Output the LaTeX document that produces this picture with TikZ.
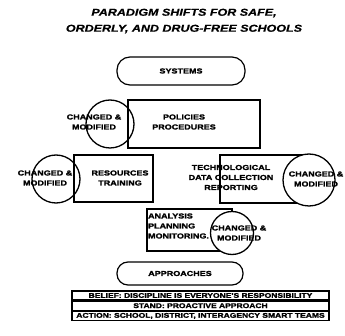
\documentclass[tikz,border=0pt]{standalone}
\usepackage{fontspec}
\newfontfamily\heavy{Liberation Sans Bold}[FakeStretch=1.25,FakeBold=2]
\newfontfamily\heavyit{Liberation Sans Bold Italic}[FakeStretch=1.25,FakeBold=0.6]
\begin{document}
\begin{tikzpicture}[x=1pt,y=-1pt,line width=1.2pt,
  lbl/.style={font=\heavy\fontsize{7.2}{10}\selectfont,align=center,inner sep=0pt},
  pill/.style={draw,rounded corners=13pt,inner sep=0pt,font=\heavy\fontsize{7.2}{10}\selectfont},
  panel/.style={draw,inner sep=0pt},
  ring/.style={draw,circle,inner sep=0pt,line width=1.3pt},
  ringfill/.style={ring,fill=white},
  rowbox/.style={draw,inner sep=0pt,minimum width=257pt,minimum height=9pt,
    font=\heavy\fontsize{6.8}{8}\selectfont}]
\useasboundingbox[fill=white] (0,0) rectangle (345,336);

% heading
\node[font=\heavyit\fontsize{10}{16}\selectfont,align=center,inner sep=0pt]
  (title) at (184,21) {PARADIGM SHIFTS FOR SAFE,\\ORDERLY, AND DRUG-FREE SCHOOLS};

% systems
\node[pill,minimum width=128pt,minimum height=28pt] (systems) at (181,71) {SYSTEMS};

% policies / procedures
\node[panel,minimum width=132pt,minimum height=48pt] (policies) at (194,124) {};
\node[ring,minimum size=48pt] (cm1) at (110,124) {};
\node[lbl] (cm1t) at (94,122) {CHANGED \&\\MODIFIED};
\node[lbl] (policiest) at (184,122) {POLICIES\\PROCEDURES};

% resources / training
\node[panel,minimum width=79pt,minimum height=47pt] (resources) at (113.5,178.5) {};
\node[ring,minimum size=48pt] (cm2) at (56,179) {};
\node[lbl] (cm2t) at (45,178) {CHANGED \&\\MODIFIED};
\node[lbl] (resourcest) at (120,178) {RESOURCES\\TRAINING};

% technological data collection
\node[panel,minimum width=89pt,minimum height=48pt] (tech) at (264.5,179) {};
\node[ringfill,minimum size=52pt] (cm3) at (309,180) {};
\node[lbl] (techt) at (231,177.5) {TECHNOLOGICAL\\DATA COLLECTION\\REPORTING};
\node[lbl] (cm3t) at (316,179) {CHANGED \&\\MODIFIED};

% analysis / planning / monitoring
\node[panel,minimum width=85pt,minimum height=42pt] (analysis) at (189.5,230) {};
\node[ringfill,minimum size=43pt] (cm4) at (232,233) {};
\node[lbl,align=left,anchor=west] (analysist) at (147.5,226) {ANALYSIS\\PLANNING\\MONITORING.};
\node[lbl] (cm4t) at (239,233) {CHANGED \&\\MODIFIED};

% approaches
\node[pill,minimum width=126pt,minimum height=23pt,rounded corners=11pt] (approaches) at (180,273.5) {APPROACHES};

% belief / stand / action
\node[rowbox] (belief) at (200.5,295.5) {BELIEF: DISCIPLINE IS EVERYONE'S RESPONSIBILITY};
\node[rowbox,anchor=north] (stand) at (belief.south) {STAND: PROACTIVE APPROACH};
\node[rowbox,anchor=north] (action) at (stand.south) {ACTION: SCHOOL, DISTRICT, INTERAGENCY SMART TEAMS};
\end{tikzpicture}
\end{document}
